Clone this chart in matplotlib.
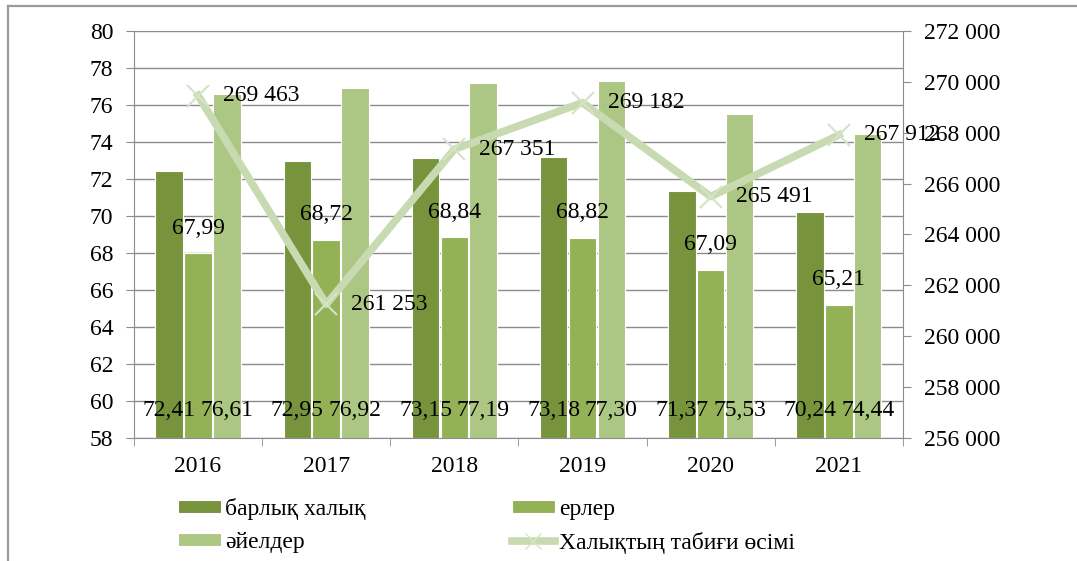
import numpy as np
import matplotlib
matplotlib.use("Agg")
import matplotlib.pyplot as plt
from matplotlib.lines import Line2D

years = ["2016", "2017", "2018", "2019", "2020", "2021"]
total = [72.41, 72.95, 73.15, 73.18, 71.37, 70.24]
men = [67.99, 68.72, 68.84, 68.82, 67.09, 65.21]
women = [76.61, 76.92, 77.19, 77.30, 75.53, 74.44]
growth = [269463, 261253, 267351, 269182, 265491, 267912]

series_names = ["барлық халық", "ерлер", "әйелдер", "Халықтың табиғи өсімі"]

C_DARK = "#77933C"
C_MID = "#93B255"
C_LIGHT = "#ACC683"
C_LINE = "#C8DAB2"
GRID = "#8C8C8C"

plt.rcParams["font.family"] = ["Liberation Serif", "DejaVu Serif"]
plt.rcParams["font.size"] = 17


def fmt_comma(v):
    return f"{v:.2f}".replace(".", ",")


def fmt_space(v):
    return f"{int(v):,}".replace(",", " ")


def main():
    fig = plt.figure(figsize=(10.77, 5.61), dpi=100)
    ax = fig.add_axes([0.1244, 0.2193, 0.714, 0.7255])
    ax2 = ax.twinx()

    x = np.arange(len(years))
    w = 0.215
    step = 0.225
    b1 = ax.bar(x - step, np.array(total) - 58, w, bottom=58, color=C_DARK,
                edgecolor="white", linewidth=0.8, zorder=2, label=series_names[0])
    b2 = ax.bar(x, np.array(men) - 58, w, bottom=58, color=C_MID,
                edgecolor="white", linewidth=0.8, zorder=2, label=series_names[1])
    b3 = ax.bar(x + step, np.array(women) - 58, w, bottom=58, color=C_LIGHT,
                edgecolor="white", linewidth=0.8, zorder=2, label=series_names[2])

    ax.set_ylim(58, 80)
    ax.set_xlim(-0.5, len(years) - 0.5)
    ax.set_yticks(np.arange(58, 81, 2))
    ax.yaxis.grid(True, color=GRID, linewidth=1.0, zorder=0)
    ax.set_axisbelow(True)
    ax.set_xticks(x)
    ax.set_xticklabels(years)
    ax.set_xticks(np.arange(-0.5, len(years)), minor=True)
    ax.tick_params(axis="x", which="major", length=0, pad=13)
    ax.tick_params(axis="x", which="minor", length=6, color=GRID, direction="out")
    ax.tick_params(axis="y", length=6, color=GRID, direction="out", pad=9)
    for s in ["top", "right"]:
        ax.spines[s].set_visible(False)
    for s in ["left", "bottom"]:
        ax.spines[s].set_color(GRID)

    # labels on bars
    for i in range(len(years)):
        ax.annotate(fmt_comma(total[i]), (x[i] - step, 58), xytext=(0, 20),
                    textcoords="offset points", ha="center", va="center",
                    zorder=5)
        ax.annotate(fmt_comma(women[i]), (x[i] + step, 58), xytext=(0, 20),
                    textcoords="offset points", ha="center", va="center",
                    zorder=5)
        ax.annotate(fmt_comma(men[i]), (x[i], men[i]), xytext=(0, 18),
                    textcoords="offset points", ha="center", va="center",
                    zorder=5)

    ax2.plot(x, growth, color=C_LINE, linewidth=5.5, marker="x",
             markersize=16, markeredgewidth=1.5, markeredgecolor="#D6E4C6",
             zorder=4, label=series_names[3])
    ax2.set_ylim(256000, 272000)
    ax2.set_yticks(np.arange(256000, 272001, 2000))
    ax2.set_yticklabels([fmt_space(v) for v in np.arange(256000, 272001, 2000)])
    ax2.tick_params(axis="y", length=6, color=GRID, direction="out", pad=9)
    for s in ["top", "left", "bottom"]:
        ax2.spines[s].set_visible(False)
    ax2.spines["right"].set_color(GRID)

    for i in range(len(years)):
        ax2.annotate(fmt_space(growth[i]), (x[i], growth[i]), xytext=(18, 0),
                     textcoords="offset points", ha="left", va="center",
                     zorder=6)

    line_handle = Line2D([], [], color=C_LINE, linewidth=5.5, marker="x",
                         markersize=12, markeredgecolor="#D6E4C6")
    fig.legend([b1, b3, b2, line_handle],
               [series_names[0], series_names[2], series_names[1], series_names[3]],
               ncol=2, loc="upper left", bbox_to_anchor=(178 / 1077, 1 - 498 / 561),
               frameon=False, handlelength=1.8, handleheight=0.45,
               handletextpad=0.2, columnspacing=6.2, labelspacing=0.5,
               borderpad=0, borderaxespad=0, fontsize=17)

    # outer frame (left and top edges)
    fig.add_artist(Line2D([8 / 1077, 8 / 1077], [0, 1 - 6 / 561],
                          transform=fig.transFigure, color="#9A9A9A", linewidth=1.6))
    fig.add_artist(Line2D([8 / 1077, 1], [1 - 6 / 561, 1 - 6 / 561],
                          transform=fig.transFigure, color="#9A9A9A", linewidth=1.6))

    fig.savefig("out.png", dpi=100)
    plt.close(fig)


if __name__ == "__main__":
    main()
